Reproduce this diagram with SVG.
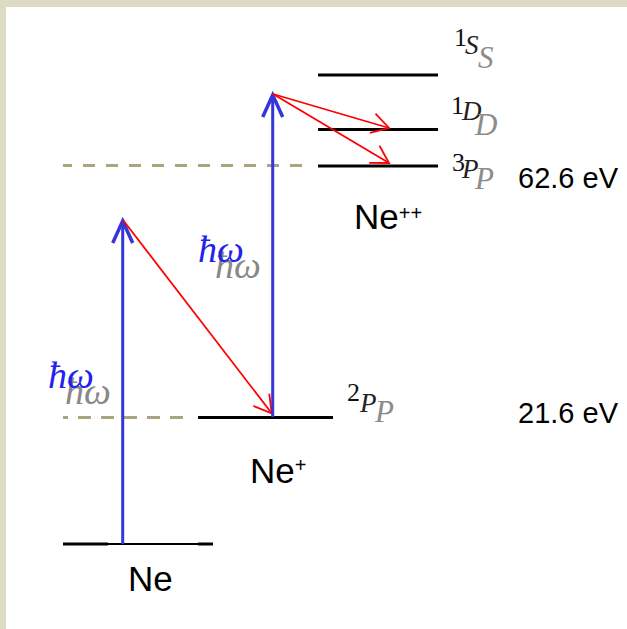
<svg xmlns="http://www.w3.org/2000/svg" width="627" height="629" viewBox="0 0 627 629">
<style>
.lvl{stroke:#000;stroke-width:3;fill:none}
.dash{stroke:#aaa47f;stroke-width:3;fill:none;stroke-dasharray:13 10}
.blue{stroke:#3535d8;stroke-width:3;fill:none}
.red{stroke:#ff0000;stroke-width:1.8;fill:none}
.lbl{font-family:"Liberation Sans","DejaVu Sans",sans-serif;fill:#000}
.ev{font-family:"Liberation Sans","DejaVu Sans",sans-serif;font-size:29px;fill:#000}
.sup{font-family:"Liberation Serif","DejaVu Serif",serif;font-size:26px;fill:#111}
.dk{font-family:"Liberation Serif","DejaVu Serif",serif;font-style:italic;font-size:27px;fill:#222}
.gr{font-family:"Liberation Serif","DejaVu Serif",serif;font-style:italic;font-size:31px;fill:#8c8c8c}
.hwb{font-family:"Liberation Serif","DejaVu Serif",serif;font-style:italic;font-size:38px;fill:#2222ee}
.hwg{font-family:"Liberation Serif","DejaVu Serif",serif;font-style:italic;font-size:38px;fill:#888}
</style>
<defs>
<marker id="ah-blue" markerUnits="userSpaceOnUse" viewBox="-30 -15 35 30" refX="0" refY="0" markerWidth="35" markerHeight="30" orient="auto" overflow="visible">
<path d="M-22,-10 L0,0 L-22,10" fill="none" stroke="#3535d8" stroke-width="3.5"/>
</marker>
<marker id="ah-red" markerUnits="userSpaceOnUse" viewBox="-25 -15 30 30" refX="0" refY="0" markerWidth="30" markerHeight="30" orient="auto" overflow="visible">
<path d="M-17,-10 L0,0 L-17,10" fill="none" stroke="#ff0000" stroke-width="1.8"/>
</marker>
</defs>
<rect x="0" y="0" width="627" height="629" fill="#dcdcc4"/>
<rect x="6" y="7" width="621" height="622" fill="#fff"/>

<g id="reference-lines">
<line class="dash" x1="183" y1="417.5" x2="63" y2="417.5"/>
<line class="dash" x1="302" y1="165.5" x2="63" y2="165.5" style="stroke-dasharray:12 11"/>
</g>

<g id="level-Ne">
<line class="lvl" x1="63" y1="544" x2="108" y2="544"/>
<line class="lvl" x1="108" y1="544" x2="198" y2="544" style="stroke-width:2"/>
<line class="lvl" x1="198" y1="544" x2="213" y2="544"/>
<text class="lbl" x="128" y="591" font-size="35">Ne</text>
</g>

<g id="level-Ne-plus">
<line class="lvl" x1="198" y1="417.5" x2="333" y2="417.5"/>
<text class="lbl" x="250" y="483" font-size="35">Ne<tspan font-size="20" dy="-11">+</tspan></text>
<text class="sup" x="347" y="401">2</text>
<text class="dk" x="360" y="412">P</text>
<text class="gr" x="375" y="422">P</text>
<text class="ev" x="518" y="423">21.6 eV</text>
</g>

<g id="level-Ne-pp">
<line class="lvl" x1="318" y1="166" x2="438" y2="166"/>
<text class="lbl" x="354" y="229" font-size="35">Ne<tspan font-size="20" dy="-9">++</tspan></text>
<text class="sup" x="452" y="171">3</text>
<text class="dk" x="462" y="178">P</text>
<text class="gr" x="475" y="189">P</text>
<text class="ev" x="518" y="188">62.6 eV</text>
</g>

<g id="level-1D">
<line class="lvl" x1="318" y1="129.5" x2="438" y2="129.5"/>
<text class="sup" x="451" y="114">1</text>
<text class="dk" x="462" y="120">D</text>
<text class="gr" x="475" y="135">D</text>
</g>

<g id="level-1S">
<line class="lvl" x1="318" y1="75" x2="438" y2="75"/>
<text class="sup" x="454" y="46">1</text>
<text class="dk" x="465" y="54">S</text>
<text class="gr" x="478" y="68">S</text>
</g>

<g id="connectors">
<line class="blue" x1="122.7" y1="544" x2="122.7" y2="221" marker-end="url(#ah-blue)"/>
<line class="red" x1="123" y1="220" x2="271.7" y2="413.3" marker-end="url(#ah-red)"/>
<line class="blue" x1="272.7" y1="417" x2="272.7" y2="95" marker-end="url(#ah-blue)"/>
<line class="red" x1="273" y1="94" x2="389" y2="128" marker-end="url(#ah-red)"/>
<line class="red" x1="273" y1="94" x2="389" y2="163" marker-end="url(#ah-red)"/>
</g>

<g id="photon-labels">
<text class="hwg" x="215" y="278">ħω</text>
<text class="hwb" x="198" y="262">ħω</text>
<text class="hwg" x="65" y="404">ħω</text>
<text class="hwb" x="48" y="388">ħω</text>
</g>
</svg>
